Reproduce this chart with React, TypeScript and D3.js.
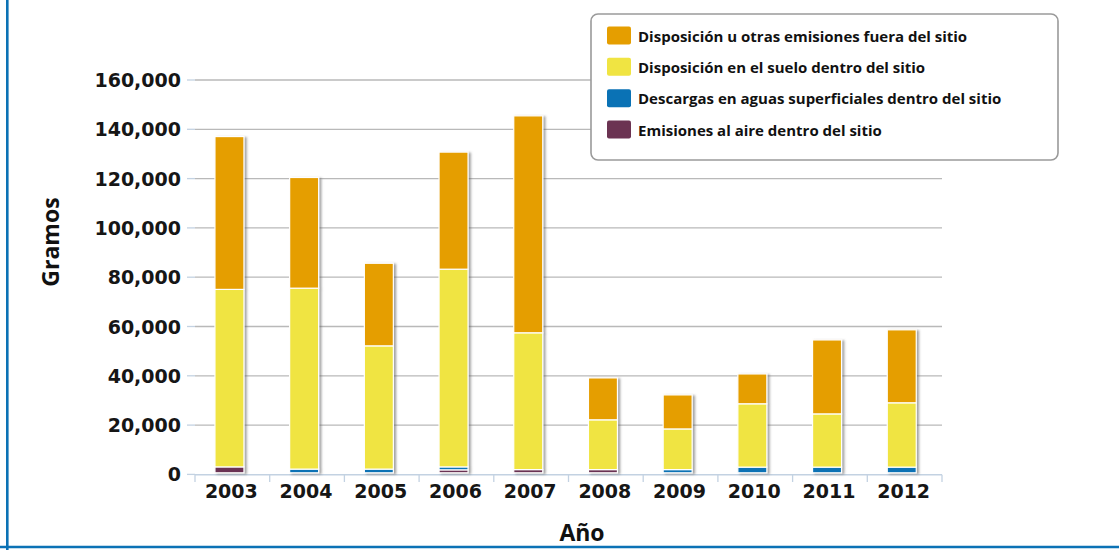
import React from "react";
import * as d3 from "d3";

// Annual releases by disposal route, in grams
const years = ["2003", "2004", "2005", "2006", "2007", "2008", "2009", "2010", "2011", "2012"];
const airEmissions = [2400, 0, 0, 1200, 1300, 1300, 0, 0, 0, 0];
const surfaceWater = [0, 1500, 1500, 1200, 0, 0, 1300, 2300, 2300, 2300];
const onSiteLand = [72000, 73400, 50000, 80200, 55500, 20200, 16500, 25700, 21600, 26100];
const offSite = [62000, 44900, 33500, 47500, 88000, 17000, 13800, 12100, 30000, 29600];

const yTicks = [0, 20000, 40000, 60000, 80000, 100000, 120000, 140000, 160000];

const seriesKeys = ["air", "water", "land", "offsite"];
const seriesColors: Record<string, string> = {
  air: "#6b3352",
  water: "#0a72b5",
  land: "#f0e442",
  offsite: "#e59e00",
};
const legendItems = [
  { key: "offsite", label: "Disposición u otras emisiones fuera del sitio" },
  { key: "land", label: "Disposición en el suelo dentro del sitio" },
  { key: "water", label: "Descargas en aguas superficiales dentro del sitio" },
  { key: "air", label: "Emisiones al aire dentro del sitio" },
];

const W = 1119;
const H = 550;
const tickFont = "'DejaVu Sans', Verdana, sans-serif";
const titleFont = "'Open Sans', 'Noto Sans', sans-serif";

export default function App() {
  const rows = years.map((yr, i) => ({
    year: yr,
    air: airEmissions[i],
    water: surfaceWater[i],
    land: onSiteLand[i],
    offsite: offSite[i],
  }));

  const x = d3.scaleBand<string>().domain(years).range([195, 942]).padding(0);
  const y = d3.scaleLinear().domain([0, 160000]).range([474.4, 80]);
  const stacked = d3.stack<any>().keys(seriesKeys)(rows);
  const fmt = d3.format(",");
  const barW = 29;
  const barOffset = -17.4;
  const barLift = 1.6; // stacks sit just above the axis line

  const legendY = d3.scalePoint<string>()
    .domain(legendItems.map((d) => d.key))
    .range([35.5, 129.5]);

  const boundaries = d3.range(years.length + 1).map((i) => 195 + i * x.step());

  return (
    <svg
      width={W}
      height={H}
      style={{ position: "absolute", left: 0, top: 0, display: "block", background: "#fff" }}
    >
      <defs>
        <filter id="barShadow" x="-30%" y="-10%" width="160%" height="120%">
          <feDropShadow dx="2.2" dy="1" stdDeviation="1.1" floodColor="#555" floodOpacity="0.55" />
        </filter>
      </defs>

      {/* frame */}
      <line x1={7.3} x2={7.3} y1={0} y2={H} stroke="#0b72b5" strokeWidth={2.6} />
      <line x1={0} x2={W} y1={547} y2={547} stroke="#0b72b5" strokeWidth={2.6} />

      {/* horizontal grid and y ticks */}
      {yTicks.map((t) => (
        <g key={t}>
          {t > 0 && (
            <line x1={195} x2={942} y1={y(t)} y2={y(t)} stroke="#b9b9b9" strokeWidth={1.3} />
          )}
          <line x1={187} x2={195} y1={y(t)} y2={y(t)} stroke="#c3d2e2" strokeWidth={1.3} />
          <text
            x={181}
            y={y(t)}
            textAnchor="end"
            dominantBaseline="central"
            fontFamily={tickFont}
            fontWeight={700}
            fontSize={19}
            fill="#161616"
          >
            {fmt(t)}
          </text>
        </g>
      ))}

      {/* x axis */}
      <line x1={195} x2={942} y1={474.8} y2={474.8} stroke="#c3d2e2" strokeWidth={1.5} />
      {boundaries.map((bx, i) => (
        <line key={i} x1={bx} x2={bx} y1={474.8} y2={482} stroke="#c3d2e2" strokeWidth={1.3} />
      ))}
      {years.map((yr) => (
        <text
          key={yr}
          x={(x(yr) as number) + x.bandwidth() / 2 - 1}
          y={497.5}
          textAnchor="middle"
          fontFamily={tickFont}
          fontWeight={700}
          fontSize={19}
          fill="#161616"
        >
          {yr}
        </text>
      ))}

      {/* stacked bars */}
      {rows.map((r, i) => (
        <g key={r.year} filter="url(#barShadow)" transform={`translate(0,${-barLift})`}>
          {stacked.map((s) => {
            const d = s[i];
            const h = y(d[0]) - y(d[1]);
            if (h <= 0) return null;
            return (
              <rect
                key={s.key}
                x={(x(r.year) as number) + x.bandwidth() / 2 + barOffset}
                y={y(d[1])}
                width={barW}
                height={h}
                fill={seriesColors[s.key]}
                stroke="#fff"
                strokeWidth={1.2}
              />
            );
          })}
        </g>
      ))}

      {/* axis titles */}
      <text
        transform={`translate(59,242) rotate(-90)`}
        textAnchor="middle"
        fontFamily={titleFont}
        fontWeight={700}
        fontSize={23}
        fill="#111"
      >
        Gramos
      </text>
      <text
        x={582}
        y={541}
        textAnchor="middle"
        fontFamily={titleFont}
        fontWeight={700}
        fontSize={23}
        fill="#111"
      >
        Año
      </text>

      {/* legend */}
      <rect x={591} y={14} width={467} height={146} rx={7} fill="#fff" stroke="#9a9a9a" strokeWidth={1.6} />
      {legendItems.map((it) => (
        <g key={it.key}>
          <rect
            x={607}
            y={(legendY(it.key) as number) - 9}
            width={24}
            height={18}
            rx={2}
            fill={seriesColors[it.key]}
          />
          <text
            x={638}
            y={legendY(it.key) as number}
            dominantBaseline="central"
            fontFamily={titleFont}
            fontWeight={700}
            fontSize={15}
            fill="#111"
          >
            {it.label}
          </text>
        </g>
      ))}
    </svg>
  );
}
